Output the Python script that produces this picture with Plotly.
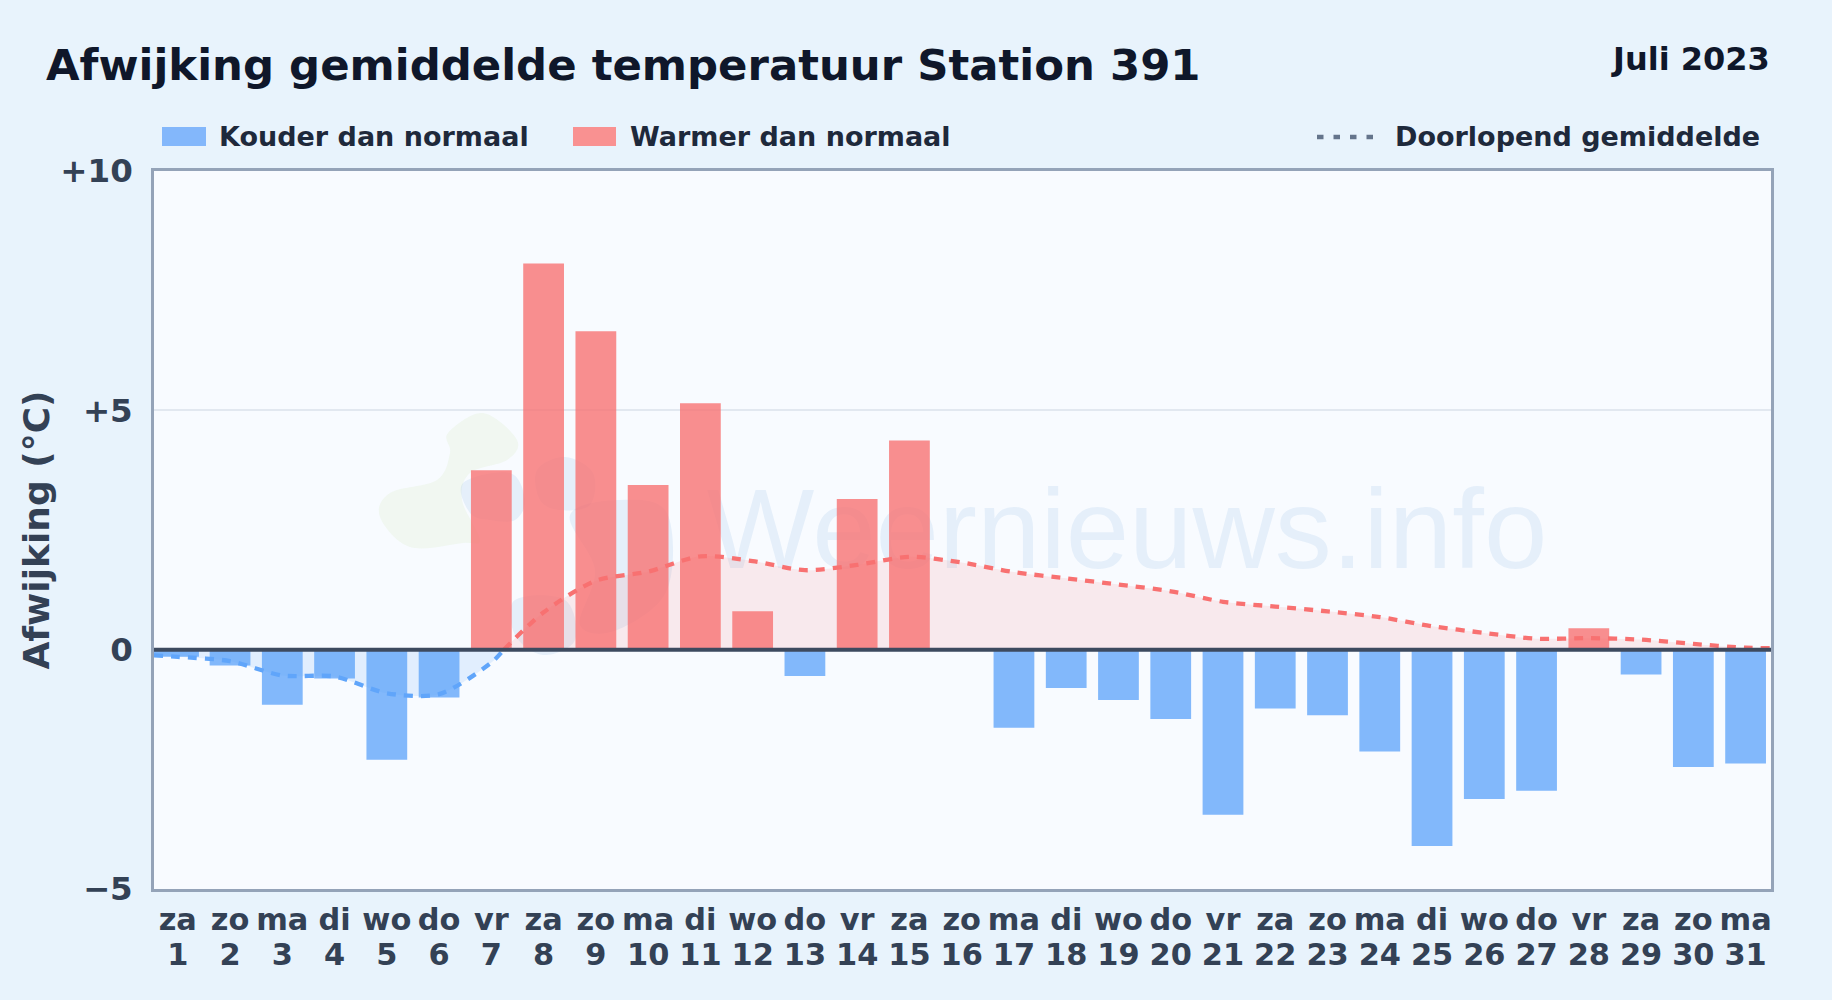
import plotly.graph_objects as go

days = list(range(1, 32))
weekdays = ["za","zo","ma","di","wo","do","vr","za","zo","ma","di","wo","do","vr","za","zo","ma","di","wo","do","vr","za","zo","ma","di","wo","do","vr","za","zo","ma"]
day_labels = [str(d) for d in days]
cold_values = [-0.15,-0.33,-1.15,-0.6,-2.3,-1.0,None,None,None,None,None,None,-0.55,None,None,None,-1.63,-0.8,-1.05,-1.45,-3.45,-1.23,-1.37,-2.13,-4.1,-3.12,-2.95,None,-0.52,-2.45,-2.38]
warm_values = [None,None,None,None,None,None,3.75,8.07,6.65,3.44,5.15,0.8,None,3.15,4.37,None,None,None,None,None,None,None,None,None,None,None,None,0.45,None,None,None]
x_start, x_end = 0.545, 31.486
avg_below_x = [x_start,1,2,3,4,5,6,7,7.24]
avg_below = [-0.12,-0.15,-0.24,-0.54,-0.56,-0.91,-0.93,-0.27,0]
avg_above_x = [7.24,8,9,10,11,12,13,14,15,16,17,18,19,20,21,22,23,24,25,26,27,28,29,30,31,x_end]
avg_above = [0,0.78,1.44,1.63,1.95,1.85,1.66,1.77,1.94,1.82,1.62,1.49,1.36,1.22,1.00,0.90,0.80,0.68,0.49,0.35,0.23,0.24,0.21,0.12,0.04,0.03]
y_ticks = [-5,0,5,10]
y_labels = ["−5","0","+5","+10"]
bar_widths = [0.86] + [0.78]*30
bar_offsets = [-0.455] + [-0.39]*30

W, H = 1832, 1000
L, R, T, B = 154, 61, 171, 111
BLUE, RED = "#60a5fa", "#f87171"

def px(x): return (x - L) / (W - L - R)
def py(y): return 1 - (y - T) / (H - T - B)

def blob(points):
    """closed smooth outline through pixel points, as a paper-space path"""
    n = len(points)
    d = "M%.5f,%.5f" % (px(points[0][0]), py(points[0][1]))
    for i in range(n):
        p0, p1, p2, p3 = points[i-1], points[i], points[(i+1)%n], points[(i+2)%n]
        c1 = (p1[0]+(p2[0]-p0[0])/6, p1[1]+(p2[1]-p0[1])/6)
        c2 = (p2[0]-(p3[0]-p1[0])/6, p2[1]-(p3[1]-p1[1])/6)
        d += " C%.5f,%.5f %.5f,%.5f %.5f,%.5f" % (px(c1[0]),py(c1[1]),px(c2[0]),py(c2[1]),px(p2[0]),py(p2[1]))
    return d + " Z"

fig = go.Figure()
fig.add_bar(x=days, y=cold_values, name="Kouder dan normaal", width=bar_widths, offset=bar_offsets, marker=dict(color=BLUE, opacity=0.78, line_width=0))
fig.add_bar(x=days, y=warm_values, name="Warmer dan normaal", width=bar_widths, offset=bar_offsets, marker=dict(color=RED, opacity=0.79, line_width=0))
fig.add_scatter(x=avg_below_x, y=avg_below, mode="lines", name="Doorlopend gemiddelde",
                line=dict(color=BLUE, width=4.3, dash="9px,8px", shape="spline", smoothing=0.8),
                fill="tozeroy", fillcolor="rgba(96,165,250,0.15)")
fig.add_scatter(x=avg_above_x, y=avg_above, mode="lines", name="Doorlopend gemiddelde",
                line=dict(color=RED, width=4.3, dash="9px,8px", shape="spline", smoothing=0.8),
                fill="tozeroy", fillcolor="rgba(248,113,113,0.13)")
# invisible carrier so the second row of x tick labels is drawn
fig.add_scatter(x=days, y=[None]*31, xaxis="x2", showlegend=False, hoverinfo="skip")

TICK = dict(family="DejaVu Sans", size=30.4, color="#334155", weight="bold")
fig.update_layout(
    width=W, height=H, barmode="overlay", showlegend=False,
    paper_bgcolor="#e8f3fc", plot_bgcolor="#f8fbff",
    margin=dict(l=L, r=R, t=T, b=B, pad=0),
    font=dict(family="DejaVu Sans"),
    title=dict(text="<b>Afwijking gemiddelde temperatuur Station 391</b>", x=46/W, xanchor="left", y=1-65/H, yanchor="middle",
               font=dict(family="DejaVu Sans", size=43.4, color="#0f172a")),
    xaxis=dict(range=[x_start,x_end], tickmode="array", tickvals=days, ticktext=weekdays, tickfont=TICK,
               showgrid=False, zeroline=False, showline=True, mirror=True, linecolor="#94a3b8", linewidth=2.5,
               ticks="outside", ticklen=2, tickcolor="rgba(0,0,0,0)", fixedrange=True),
    xaxis2=dict(range=[x_start,x_end], overlaying="x", side="bottom", anchor="y", tickmode="array", tickvals=days, ticktext=day_labels,
                tickfont=TICK, showgrid=False, zeroline=False, showline=False,
                ticks="outside", ticklen=39, tickcolor="rgba(0,0,0,0)", fixedrange=True),
    yaxis=dict(range=[-5,10], tickmode="array", tickvals=y_ticks, ticktext=y_labels,
               tickfont=dict(family="DejaVu Sans", size=32.5, color="#334155", weight="bold"),
               showgrid=True, gridcolor="#e2e8f0", gridwidth=2, zeroline=False, showline=True, mirror=True,
               linecolor="#94a3b8", linewidth=2.5, ticks="outside", ticklen=12, tickcolor="rgba(0,0,0,0)", fixedrange=True,
               title=dict(text="<b>Afwijking (°C)</b>", font=dict(family="DejaVu Sans", size=36, color="#334155"), standoff=0)),
)

fig.add_shape(type="line", xref="paper", x0=0, x1=1, yref="y", y0=0, y1=0, line=dict(color="#3d4a5f", width=4), layer="above")

# watermark logo and text, under the bars
GREEN_W = "rgba(190,225,150,0.13)"
BLUE_W = "rgba(40,120,200,0.09)"
logo = [
    (GREEN_W, [(448,433),(483,413),(517,440),(507,460),(470,473),(462,500),(480,540),(463,543),(410,547),(380,517),(390,493),(437,480),(450,453)]),
    (BLUE_W, [(463,483),(510,473),(525,500),(515,520),(490,520),(470,513)]),
    (BLUE_W, [(537,470),(565,457),(593,473),(590,505),(560,510),(540,500)]),
    (BLUE_W, [(570,515),(620,500),(667,513),(667,590),(617,630),(580,625),(595,570)]),
    (BLUE_W, [(515,600),(565,600),(575,640),(543,655),(515,635)]),
]
for color, pts in logo:
    fig.add_shape(type="path", xref="paper", yref="paper", path=blob(pts), fillcolor=color, line_width=0, layer="below")

fig.add_shape(type="rect", xref="paper", yref="paper", x0=px(627), x1=px(1627), y0=py(577), y1=py(457),
              fillcolor="rgba(0,0,0,0)", line_width=0, layer="below",
              label=dict(text="Weernieuws.info", textposition="middle center",
                         font=dict(family="Liberation Sans", size=114, color="rgba(40,120,200,0.09)")))

# header and legend
def label(text, x, y, anchor, size, color):
    fig.add_annotation(text="<b>%s</b>" % text, xref="paper", yref="paper", x=px(x), y=py(y), xanchor=anchor, yanchor="middle",
                       showarrow=False, font=dict(family="DejaVu Sans", size=size, color=color), xshift=0, borderpad=0, borderwidth=0)

label("Juli 2023", 1770, 59, "right", 32, "#0f172a")
label("Kouder dan normaal", 219, 136, "left", 27, "#1e293b")
label("Warmer dan normaal", 630, 136, "left", 27, "#1e293b")
label("Doorlopend gemiddelde", 1395, 136, "left", 27, "#1e293b")
fig.add_shape(type="rect", xref="paper", yref="paper", x0=px(162), x1=px(206), y0=py(127), y1=py(146), fillcolor="#83b7fb", line_width=0, layer="above")
fig.add_shape(type="rect", xref="paper", yref="paper", x0=px(573), x1=px(616), y0=py(127), y1=py(146), fillcolor="#f99191", line_width=0, layer="above")
fig.add_shape(type="line", xref="paper", yref="paper", x0=px(1317), x1=px(1373), y0=py(137), y1=py(137),
              line=dict(color="#64748b", width=4.5, dash="6.5px,10px"), layer="above")

fig.write_html("out.html", config=dict(displayModeBar=False),
               post_script="document.body.style.margin='0';document.body.style.overflow='hidden';")
